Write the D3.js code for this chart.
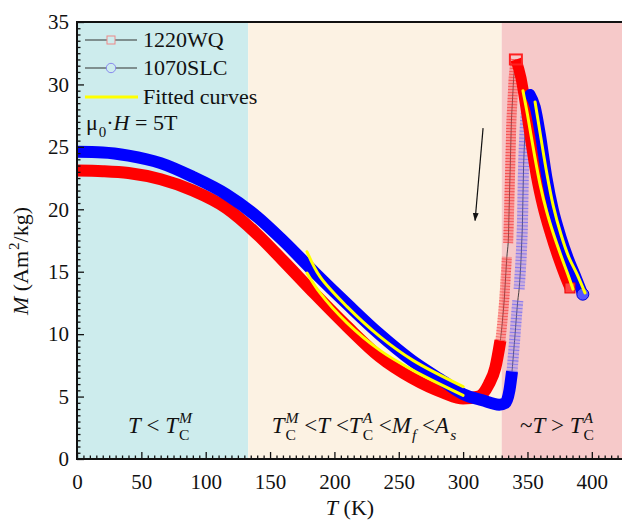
<!DOCTYPE html>
<html>
<head>
<meta charset="utf-8">
<script src="https://cdn.jsdelivr.net/npm/d3@7"></script>
<style>
  html, body { margin: 0; padding: 0; background: #fff; }
  svg text { font-family: "Liberation Serif", "Times New Roman", "DejaVu Serif", serif; fill: #111; white-space: pre; }
</style>
</head>
<body>
<svg id="chart" width="622" height="522"></svg>
<script>
// ---- data (T in K, M in Am2/kg) ----
const regionEdges = [0, 133, 330, 425];
const regionColors = ["#cdeced", "#fcf2e3", "#f6c9c9"];

// 1220WQ (squares)
const redMain = [[0,23.1],[20,23.05],[40,22.9],[65,22.4],[90,21.5],[116,20.1],[140,18.0],[160,15.9],[185,13.2],[210,10.6],[235,8.2],[260,6.5],[285,5.3],[300,4.85],[312,5.0],[320,6.0],[325,7.3],[329,9.5]];
const redRiseLow = [[329,9.5],[330.5,11],[332,12.8],[333,14.5],[334,16.2]];
const redRiseHigh = [[335,17.3],[335.5,19],[336,21],[336.5,23],[337,25],[337.5,27],[338.5,29],[339.5,30.8],[341,32.0]];
const redFall = [[341,32.0],[345,30.5],[349,28.0],[353,25.2],[357,22.6],[362,20.2],[368,18.0],[374,16.1],[379,14.7],[383,13.7]];

// 1070SLC (circles)
const blueMain = [[0,24.6],[20,24.55],[40,24.3],[65,23.7],[90,22.6],[116,21.2],[140,19.4],[160,17.5],[185,14.9],[210,12.4],[235,10.0],[260,7.9],[285,6.2],[300,5.2],[315,4.7],[328,4.35],[333,4.5],[336,5.5],[338,7.0]];
const blueRiseLow = [[338,7.0],[340,9.5],[341.5,11.5],[342.5,12.7]];
const blueRiseHigh = [[343.5,13.6],[345,16],[346,18.5],[346.5,21],[347,23.5],[348,26],[349.5,28.2],[351.5,29.2]];
const blueFall = [[352,29.2],[356,28.2],[360,26.0],[365,22.6],[370,20.0],[376,17.8],[382,16.0],[388,14.5],[393,13.2]];

// fitted curves
const fitMidBlue = [[178.7,16.6],[188.8,14.6],[209.8,12.2],[235.4,9.8],[261.1,7.9],[300,5.8]];
const fitMidRed = [[178.7,14.9],[188.8,13.3],[209.8,10.9],[235.4,8.7],[261.1,7.1],[300,5.1]];
const fitHighRed = [[346.5,29.5],[350,27.6],[355,24.6],[360,21.9],[365,19.8],[370,18.1],[376,16.3],[381,14.9],[385.4,13.6]];
const fitHighBlue = [[355.9,28.6],[360,26.0],[365,22.9],[370,20.3],[376,18.0],[382,16.2],[388.5,14.8],[394.7,13.3]];

const arrowFrom = [315.5, 26.5];
const arrowTo = [309.3, 19.1];

const xTicks = [0, 50, 100, 150, 200, 250, 300, 350, 400];
const yTicks = [0, 5, 10, 15, 20, 25, 30, 35];

// ---- layout ----
const FONT = '"Liberation Serif", "Times New Roman", "DejaVu Serif", serif';
const svg = d3.select("#chart");
const pLeft = 77, pRight = 624, pTop = 22, pBottom = 459;

const x = d3.scaleLinear().domain([0, 425]).range([pLeft, pRight]);
const y = d3.scaleLinear().domain([0, 35]).range([pBottom, pTop]);

svg.append("defs").append("clipPath").attr("id", "plot")
  .append("rect").attr("x", pLeft).attr("y", pTop).attr("width", pRight - pLeft).attr("height", pBottom - pTop);

// background regions
svg.append("g").selectAll("rect")
  .data(regionColors)
  .join("rect")
  .attr("x", (d, i) => x(regionEdges[i]))
  .attr("y", pTop)
  .attr("width", (d, i) => x(regionEdges[i + 1]) - x(regionEdges[i]))
  .attr("height", pBottom - pTop)
  .attr("fill", d => d);

const line = d3.line().x(d => x(d[0])).y(d => y(d[1])).curve(d3.curveCatmullRom);
const smooth = d3.line().x(d => x(d[0])).y(d => y(d[1])).curve(d3.curveMonotoneX);
const plot = svg.append("g").attr("clip-path", "url(#plot)");

// thin connecting lines (show only in the gaps)
plot.append("path").attr("d", line(redRiseLow.concat(redRiseHigh)))
  .attr("fill", "none").attr("stroke", "#333").attr("stroke-width", 0.9);
plot.append("path").attr("d", line(blueRiseLow.concat(blueRiseHigh)))
  .attr("fill", "none").attr("stroke", "#333").attr("stroke-width", 0.9);

// sparse branches: stacked open markers
function sparse(pts, w, band, rung, dash) {
  plot.append("path").attr("d", line(pts)).attr("fill", "none")
    .attr("stroke", band).attr("stroke-width", w);
  plot.append("path").attr("d", line(pts)).attr("fill", "none")
    .attr("stroke", rung).attr("stroke-width", w).attr("stroke-dasharray", dash);
}
sparse(redRiseLow, 10, "rgba(255,80,80,0.42)", "rgba(240,30,30,0.6)", "0.8 2.2");
sparse(redRiseHigh, 10, "rgba(255,80,80,0.42)", "rgba(240,30,30,0.6)", "0.8 2.2");
sparse(blueRiseLow, 11, "rgba(120,120,255,0.32)", "rgba(70,70,255,0.5)", "1 2.5");
sparse(blueRiseHigh, 11, "rgba(120,120,255,0.32)", "rgba(70,70,255,0.5)", "1 2.5");

// dense bands
function band(pts, color, w, cap) {
  plot.append("path").attr("d", smooth(pts)).attr("fill", "none")
    .attr("stroke", color).attr("stroke-width", w)
    .attr("stroke-linejoin", "round").attr("stroke-linecap", cap);
}
band(redMain, "#ff0000", 12, "butt");
band(redFall, "#ff0000", 11, "butt");
band(blueMain, "#0000ff", 12, "butt");
band(blueFall, "#0000ff", 11, "round");

// peak and end markers
const peakRed = redFall[0];
plot.append("rect").attr("x", x(peakRed[0]) - 6).attr("y", y(peakRed[1]) - 5)
  .attr("width", 12).attr("height", 10).attr("fill", "none")
  .attr("stroke", "#ff2020").attr("stroke-width", 2);
const lastRed = redFall[redFall.length - 1];
plot.append("rect").attr("x", x(lastRed[0]) - 5).attr("y", y(lastRed[1]) - 5)
  .attr("width", 10).attr("height", 10)
  .attr("fill", "#f44").attr("stroke", "#e00").attr("stroke-width", 1);
const lastBlue = blueFall[blueFall.length - 1];
plot.append("circle").attr("cx", x(lastBlue[0])).attr("cy", y(lastBlue[1])).attr("r", 6)
  .attr("fill", "#55f").attr("stroke", "#00d").attr("stroke-width", 1);

// fitted curves
[fitMidBlue, fitMidRed, fitHighRed, fitHighBlue].forEach(f => {
  plot.append("path").attr("d", line(f)).attr("fill", "none")
    .attr("stroke", "#ffff00").attr("stroke-width", 3).attr("stroke-linecap", "round");
});

// arrow
svg.append("defs").append("marker").attr("id", "head")
  .attr("viewBox", "0 0 10 10").attr("refX", 9).attr("refY", 5)
  .attr("markerWidth", 7).attr("markerHeight", 9).attr("orient", "auto")
  .append("path").attr("d", "M0,1.5 L10,5 L0,8.5 Z").attr("fill", "#111");
svg.append("line")
  .attr("x1", x(arrowFrom[0])).attr("y1", y(arrowFrom[1]))
  .attr("x2", x(arrowTo[0])).attr("y2", y(arrowTo[1]))
  .attr("stroke", "#111").attr("stroke-width", 1.2).attr("marker-end", "url(#head)");

// ---- axes ----
const xMinor = d3.range(0, 426, 5).filter(v => v % 50 !== 0);
const yMinor = d3.range(0, 35.01, 0.5).filter(v => v % 5 !== 0);

svg.append("g").attr("transform", `translate(0,${pBottom})`)
  .call(d3.axisBottom(x).tickValues(xMinor).tickSize(-3.5).tickFormat(""))
  .call(g => g.select(".domain").remove());
const gx = svg.append("g").attr("transform", `translate(0,${pBottom})`)
  .call(d3.axisBottom(x).tickValues(xTicks).tickSize(-7).tickPadding(15));
gx.select(".domain").remove();

svg.append("g").attr("transform", `translate(${pLeft},0)`)
  .call(d3.axisLeft(y).tickValues(yMinor).tickSize(-3.5).tickFormat(""))
  .call(g => g.select(".domain").remove());
const gy = svg.append("g").attr("transform", `translate(${pLeft},0)`)
  .call(d3.axisLeft(y).tickValues(yTicks).tickSize(-7).tickPadding(8));
gy.select(".domain").remove();

[gx, gy].forEach(g => g.attr("font-family", null).attr("font-size", null)
  .selectAll("text").style("font-family", FONT).style("font-size", "21px").attr("fill", "#111"));
svg.selectAll(".tick line").attr("stroke", "#111").attr("stroke-width", 1.3);

// frame
svg.append("path")
  .attr("d", `M${pRight + 5},${pTop}H${pLeft}V${pBottom}H${pRight + 5}`)
  .attr("fill", "none").attr("stroke", "#111").attr("stroke-width", 2);

// ---- rich text helper ----
function txt(g, s, size, italic) {
  return g.append("text").text(s)
    .style("font-family", FONT).style("font-size", size + "px")
    .style("font-style", italic ? "italic" : "normal").style("white-space", "pre");
}
function rich(parent, x0, y0, parts, size, anchor) {
  const g = parent.append("g");
  let cx = 0;
  const small = size * 0.68;
  parts.forEach(p => {
    const t = txt(g, p.t, size, p.i).attr("x", cx).attr("y", 0);
    cx += t.node().getComputedTextLength();
    let adv = 0;
    if (p.sub) {
      const s = txt(g, p.sub, small, p.subI).attr("x", cx + 1).attr("y", size * 0.3);
      adv = Math.max(adv, s.node().getComputedTextLength() + 1);
    }
    if (p.sup) {
      const s = txt(g, p.sup, small, p.supI).attr("x", cx + 1).attr("y", -size * 0.42);
      adv = Math.max(adv, s.node().getComputedTextLength() + 1);
    }
    cx += adv;
  });
  const shift = anchor === "middle" ? -cx / 2 : 0;
  g.attr("transform", `translate(${x0 + shift},${y0})`);
  return g;
}

// region labels
rich(svg, 160, 433,
  [{t: "T", i: true}, {t: " < "}, {t: "T", i: true, sub: "C", sup: "M", supI: true}], 23, "middle");
rich(svg, 364, 433,
  [{t: "T", i: true, sub: "C", sup: "M", supI: true}, {t: " <"}, {t: "T", i: true}, {t: " <"},
   {t: "T", i: true, sub: "C", sup: "A", supI: true}, {t: " <"}, {t: "M", i: true, sub: "f", subI: true},
   {t: " <"}, {t: "A", i: true, sub: "s", subI: true}], 23, "middle");
rich(svg, 557, 433,
  [{t: "~"}, {t: "T", i: true}, {t: " > "}, {t: "T", i: true, sub: "C", sup: "A", supI: true}], 23, "middle");

// axis titles
rich(svg, 350, 515, [{t: "T", i: true}, {t: " (K)"}], 22, "middle");
const yt = rich(svg, 0, 0, [{t: "M", i: true}, {t: " (Am"}, {t: "", sup: "2"}, {t: "/kg)"}], 22, "start");
const ytw = yt.node().getBBox().width;
yt.attr("transform", `translate(28,${(pTop + pBottom) / 2 + 20 + ytw / 2}) rotate(-90)`);

// ---- legend ----
const legend = svg.append("g");
const rows = [
  {label: "1220WQ", y: 40, kind: "square"},
  {label: "1070SLC", y: 68, kind: "circle"},
  {label: "Fitted curves", y: 97, kind: "fit"}
];
rows.forEach(r => {
  if (r.kind === "fit") {
    legend.append("line").attr("x1", 85).attr("x2", 138).attr("y1", r.y).attr("y2", r.y)
      .attr("stroke", "#ffff00").attr("stroke-width", 3);
  } else {
    legend.append("line").attr("x1", 85).attr("x2", 137).attr("y1", r.y).attr("y2", r.y)
      .attr("stroke", "#333").attr("stroke-width", 1.2);
    if (r.kind === "square") {
      legend.append("rect").attr("x", 107).attr("y", r.y - 4).attr("width", 8).attr("height", 8)
        .attr("fill", "#cdeced").attr("stroke", "#ee8888").attr("stroke-width", 1);
    } else {
      legend.append("circle").attr("cx", 111).attr("cy", r.y).attr("r", 4.7)
        .attr("fill", "#cdeced").attr("stroke", "#8888ee").attr("stroke-width", 1);
    }
  }
  txt(legend, r.label, 22, false).attr("x", 143).attr("y", r.y + 7);
});
rich(svg, 86, 130, [{t: "\u03bc", sub: "0"}, {t: "\u00b7"}, {t: "H", i: true}, {t: " = 5T"}], 22, "start");
</script>
</body>
</html>
